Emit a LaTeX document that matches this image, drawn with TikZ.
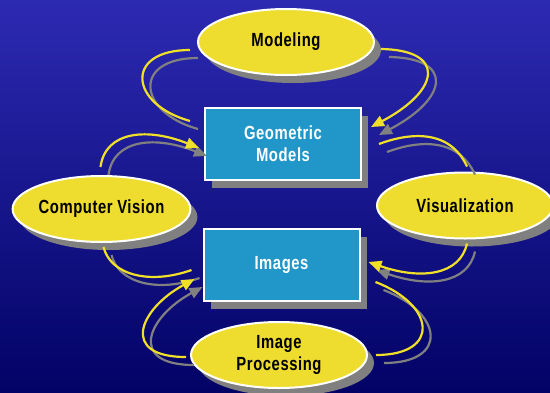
\documentclass[tikz,border=0pt]{standalone}
\usepackage{fontspec}
\setmainfont{Liberation Sans}[FakeStretch=0.78,LetterSpace=3]
\usetikzlibrary{shapes.geometric,shadows,arrows.meta}

\definecolor{bgtop}{RGB}{45,42,178}
\definecolor{bgbot}{RGB}{2,2,102}
\definecolor{topicyellow}{RGB}{238,221,46}
\definecolor{linkyellow}{RGB}{240,224,40}
\definecolor{boxblue}{RGB}{33,150,200}
\definecolor{shadegray}{RGB}{128,128,128}
\newcommand\cyclefont{\fontsize{19}{22}\selectfont\bfseries}

\begin{document}
\begin{tikzpicture}[x=1pt,y=-1pt,
    topic/.style={ellipse,draw=white,line width=2pt,fill=topicyellow,
      inner sep=0pt,minimum width=176pt,minimum height=66pt,
      font=\cyclefont,align=center,
      drop shadow={shadow xshift=7pt,shadow yshift=-8pt,fill=shadegray,opacity=1}},
    store/.style={rectangle,draw=white,line width=2pt,fill=boxblue,text=white,
      minimum width=156pt,minimum height=72pt,
      font=\cyclefont,align=center,
      drop shadow={shadow xshift=7pt,shadow yshift=-8pt,fill=shadegray,opacity=1}},
    link/.style={line width=2.2pt,>={Triangle[length=13pt,width=11pt]}}]

    \useasboundingbox (0,0) rectangle (550,392);
    \shade[top color=bgtop,bottom color=bgbot] (0,0) rectangle (550,392);

    % the two data boxes
    \node[store] (geo) at (283,144) {Geometric\\Models};
    \node[store] (img) at (281.5,265) {Images};

    % the four fields round them
    \node[topic] (model) at (286,42) {Modeling};
    \node[topic] (cv) at (101.5,209) {Computer Vision};
    \node[topic] (vis) at (465,205.5) {Visualization};
    \node[topic] (proc) at (279,355) {Image\\Processing};

    % curved links, grey copy first, yellow on top
    \foreach \col/\off in {shadegray/8,linkyellow/0} {
      \begin{scope}[link,color=\col,transform canvas={shift={(\off,\off)}}]
        \draw ([shift={(-7,8)}]model.west) .. controls +(-66,0) and +(-61,-17) .. ([shift={(-14,14)}]geo.north west);
        \draw[->] ([shift={(6,7)}]model.east) .. controls +(65,1) and +(70,-37) .. ([shift={(9,-17)}]geo.east);
        \draw[->] ([shift={(-1,-8)}]cv.north) .. controls +(5,-37) and +(-50,-20) .. ([shift={(-5,4)}]geo.west);
        \draw ([shift={(17,0)}]geo.east) .. controls +(32,-12) and +(-17,-37) .. ([shift={(2,-5)}]vis.north);
        \draw ([shift={(2,4)}]cv.south) .. controls +(7,28) and +(-42,15) .. ([shift={(-11,5)}]img.west);
        \draw[->] ([shift={(-4,2)}]proc.west) .. controls +(-67,0) and +(-55,30) .. ([shift={(-8,14)}]img.west);
        \draw[->] ([shift={(2,4)}]vis.south) .. controls +(-7,32) and +(52,18) .. ([shift={(8,-3)}]img.east);
        \draw ([shift={(15,17)}]img.east) .. controls +(60,23) and +(65,0) .. ([shift={(8,0)}]proc.east);
      \end{scope}
    }
\end{tikzpicture}
\end{document}
